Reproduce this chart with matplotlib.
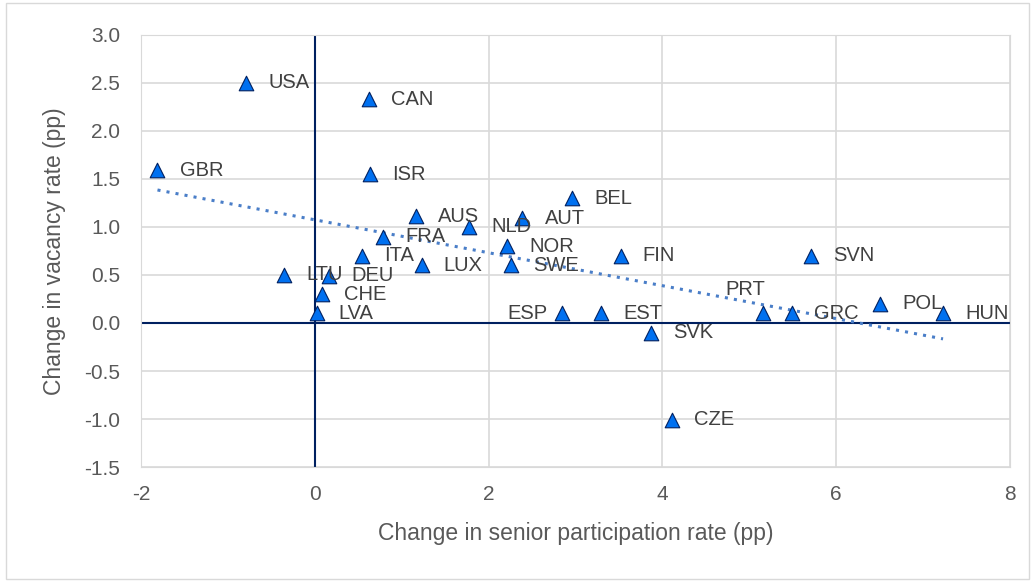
import matplotlib.pyplot as plt
import numpy as np
from matplotlib.patches import Rectangle

plt.rcParams['font.family'] = ['Liberation Sans', 'DejaVu Sans']
plt.rcParams['axes.unicode_minus'] = False

countries = ["USA", "CAN", "GBR", "ISR", "AUS", "NLD", "FRA", "ITA", "LUX", "LTU",
             "DEU", "CHE", "LVA", "BEL", "AUT", "NOR", "SWE", "FIN", "ESP", "EST",
             "SVK", "CZE", "PRT", "GRC", "SVN", "POL", "HUN"]
senior_change = [-0.79, 0.62, -1.81, 0.64, 1.16, 1.78, 0.79, 0.54, 1.23, -0.35,
                 0.16, 0.08, 0.02, 2.96, 2.39, 2.21, 2.26, 3.52, 2.85, 3.29,
                 3.87, 4.11, 5.16, 5.49, 5.71, 6.51, 7.23]
vacancy_change = [2.5, 2.33, 1.59, 1.55, 1.11, 1.0, 0.9, 0.7, 0.6, 0.5,
                  0.49, 0.3, 0.1, 1.3, 1.09, 0.8, 0.6, 0.7, 0.1, 0.1,
                  -0.1, -1.01, 0.1, 0.1, 0.7, 0.2, 0.1]

# label placement: default right of marker, a few exceptions
left_labels = ["ESP"]
above_labels = ["PRT"]

fig = plt.figure(figsize=(10.35, 5.81), dpi=100)
fig.patches.append(Rectangle((0.006, 0.004), 0.988, 0.99, transform=fig.transFigure,
                             fill=False, edgecolor="#d9d9d9", linewidth=1))
ax = fig.add_axes([0.1362, 0.1962, 0.8396, 0.7436])

x = np.array(senior_change)
y = np.array(vacancy_change)

ax.set_xlim(-2, 8)
ax.set_ylim(-1.5, 3.0)
ax.set_xticks(np.arange(-2, 9, 2))
ax.set_yticks(np.arange(-1.5, 3.01, 0.5))
ax.set_yticklabels(["{:.1f}".format(v) for v in np.arange(-1.5, 3.01, 0.5)])
ax.grid(True, color="#d9d9d9", linewidth=1.2)
ax.set_axisbelow(True)
for s in ax.spines.values():
    s.set_color("#d9d9d9")
ax.tick_params(length=0, labelsize=15, colors="#595959")
ax.tick_params(axis="y", pad=15)
ax.tick_params(axis="x", pad=13)

ax.axhline(0, color="#002060", linewidth=1.5, zorder=2)
ax.axvline(0, color="#002060", linewidth=1.5, zorder=2)

# linear trend line
k, b = np.polyfit(x, y, 1)
tx = np.array([x.min(), x.max()])
ax.plot(tx, k * tx + b, linestyle=(0, (1, 2)), color="#4a7ec8", linewidth=2.2,
        zorder=3)

ax.scatter(x, y, marker="^", s=110, color="#0070f0", edgecolor="#002060",
           linewidth=0.8, zorder=4)

for name, xv, yv in zip(countries, x, y):
    if name in left_labels:
        ax.annotate(name, (xv, yv), xytext=(-11, 0), textcoords="offset points",
                    ha="right", va="center", fontsize=14.5, color="#404040", zorder=5)
    elif name in above_labels:
        ax.annotate(name, (xv, yv), xytext=(-13, 17), textcoords="offset points",
                    ha="center", va="center", fontsize=14.5, color="#404040", zorder=5)
    else:
        ax.annotate(name, (xv, yv), xytext=(16, 0), textcoords="offset points",
                    ha="left", va="center", fontsize=14.5, color="#404040", zorder=5)

ax.set_xlabel("Change in senior participation rate (pp)", fontsize=16.5,
              color="#595959", va="center")
ax.set_ylabel("Change in vacancy rate (pp)", fontsize=16.5, color="#595959",
              va="center")
ax.xaxis.set_label_coords(0.5, -0.153)
ax.yaxis.set_label_coords(-0.099, 0.5)

plt.savefig("out.png", dpi=100)
